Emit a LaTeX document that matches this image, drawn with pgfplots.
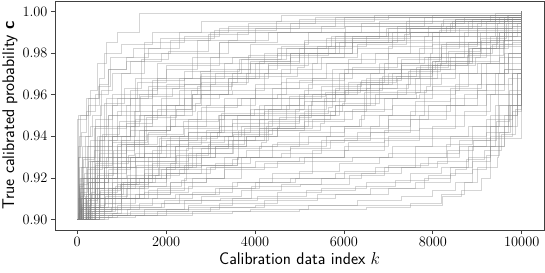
\documentclass[border=0pt]{standalone}
\usepackage{pgfplots}
\pgfplotsset{compat=1.18}
\begin{document}
\begin{tikzpicture}
\begin{axis}[
  scale only axis, width=489bp, height=229bp,
  xmin=-500, xmax=10500, ymin=0.895, ymax=1.005,
  xtick={0,2000,4000,6000,8000,10000},
  ytick={0.90,0.92,0.94,0.96,0.98,1.00},
  yticklabel style={/pgf/number format/.cd, fixed, fixed zerofill, precision=2},
  xticklabel style={/pgf/number format/.cd, 1000 sep={}},
  scaled x ticks=false,
  tick align=outside, xtick pos=bottom, ytick pos=left,
  major tick length=4bp,
  every tick/.style={black!75, line width=0.8pt},
  axis line style={black!75, line width=1pt},
  tick label style={font=\fontsize{14.5}{16}\selectfont},
  label style={font=\fontsize{17}{20}\selectfont},
  xlabel={\textsf{Calibration data index} $k$},
  ylabel={\textsf{True calibrated probability \bfseries c}},
  xlabel style={yshift=1bp},
  ylabel style={yshift=-2bp},
  every axis plot post/.append style={const plot, draw=gray, solid, mark=none, draw opacity=0.33, line width=0.8pt},
]
% fast risers
\addplot coordinates {(0,0.9)(20,0.93)(80,0.95)(300,0.962)(450,0.975)(650,0.985)(900,0.99)(1390,0.999)(10000,1)};
\addplot coordinates {(0,0.9)(40,0.915)(120,0.935)(250,0.958)(500,0.968)(600,0.98)(1000,0.984)(1700,0.99)(2800,0.995)(4600,0.998)(10000,1)};
\addplot coordinates {(0,0.9)(15,0.948)(200,0.952)(400,0.96)(700,0.972)(1100,0.978)(1600,0.982)(2300,0.99)(3400,0.993)(5800,0.997)(10000,1)};
\addplot coordinates {(0,0.9)(150,0.92)(450,0.94)(650,0.958)(1000,0.97)(1500,0.98)(2100,0.986)(3000,0.99)(4800,0.994)(8000,0.998)(10000,1)};
\addplot coordinates {(0,0.9)(80,0.913)(220,0.935)(420,0.948)(800,0.96)(1300,0.968)(2000,0.974)(3200,0.985)(4500,0.99)(6800,0.995)(9400,0.999)(10000,1)};
\addplot coordinates {(0,0.9)(260,0.928)(520,0.955)(900,0.958)(1350,0.966)(2000,0.972)(2700,0.98)(3400,0.986)(4300,0.99)(6400,0.994)(8700,0.997)(10000,1)};
\addplot coordinates {(0,0.9)(100,0.92)(300,0.938)(600,0.944)(1100,0.955)(1700,0.967)(2400,0.971)(3000,0.978)(3900,0.984)(5200,0.99)(7400,0.995)(9300,0.998)(10000,1)};
\addplot coordinates {(0,0.9)(380,0.933)(800,0.945)(1300,0.96)(1800,0.975)(2600,0.978)(3200,0.985)(4000,0.992)(6000,0.997)(10000,1)};
\addplot coordinates {(0,0.9)(60,0.925)(180,0.94)(350,0.95)(550,0.962)(800,0.97)(1200,0.976)(1900,0.98)(2700,0.986)(3600,0.99)(5500,0.993)(7800,0.997)(10000,1)};
\addplot coordinates {(0,0.9)(30,0.95)(250,0.955)(500,0.965)(700,0.972)(1100,0.976)(1500,0.985)(2400,0.988)(3200,0.992)(5000,0.996)(7000,0.998)(10000,1)};
% medium-high
\addplot coordinates {(0,0.9)(100,0.91)(500,0.925)(900,0.935)(1500,0.945)(2200,0.955)(3000,0.965)(3800,0.97)(4800,0.978)(6000,0.985)(7200,0.99)(8500,0.995)(9700,0.998)(10000,1)};
\addplot coordinates {(0,0.9)(200,0.912)(600,0.93)(1000,0.94)(1400,0.943)(2100,0.95)(2600,0.96)(3500,0.962)(4200,0.97)(5300,0.975)(6400,0.98)(7500,0.985)(8700,0.99)(9600,0.996)(10000,1)};
\addplot coordinates {(0,0.9)(50,0.905)(300,0.918)(700,0.922)(1100,0.935)(1900,0.94)(2500,0.948)(3300,0.955)(4000,0.96)(4700,0.968)(5600,0.975)(6700,0.98)(7800,0.988)(8800,0.992)(9800,0.997)(10000,1)};
\addplot coordinates {(0,0.9)(70,0.92)(400,0.935)(1000,0.938)(1500,0.95)(2400,0.958)(3200,0.96)(4000,0.965)(4600,0.972)(5500,0.978)(6300,0.982)(7100,0.986)(8000,0.99)(9200,0.995)(10000,1)};
\addplot coordinates {(0,0.9)(120,0.915)(350,0.928)(800,0.94)(1300,0.948)(1800,0.953)(2600,0.96)(3400,0.968)(4300,0.975)(5400,0.98)(6200,0.988)(7400,0.992)(8900,0.996)(10000,1)};
\addplot coordinates {(0,0.9)(30,0.93)(600,0.94)(1200,0.943)(2100,0.945)(2900,0.955)(3700,0.958)(4500,0.96)(5200,0.965)(6000,0.97)(6900,0.975)(7800,0.978)(8700,0.985)(9500,0.99)(10000,1)};
\addplot coordinates {(0,0.9)(100,0.91)(400,0.922)(900,0.93)(1400,0.94)(2000,0.945)(2700,0.952)(3300,0.958)(4000,0.963)(5000,0.967)(6000,0.972)(7000,0.98)(8000,0.984)(9000,0.988)(9900,0.994)(10000,1)};
\addplot coordinates {(0,0.9)(200,0.925)(700,0.93)(1500,0.935)(2300,0.94)(3200,0.945)(4100,0.955)(5000,0.96)(5800,0.962)(6500,0.968)(7300,0.975)(8300,0.985)(9300,0.988)(10000,1)};
\addplot coordinates {(0,0.9)(150,0.918)(500,0.932)(1100,0.946)(1700,0.955)(2400,0.965)(3100,0.97)(3900,0.975)(4800,0.98)(5800,0.985)(7000,0.99)(8400,0.994)(9600,0.997)(10000,1)};
\addplot coordinates {(0,0.9)(60,0.912)(300,0.928)(700,0.938)(1200,0.95)(1900,0.958)(2800,0.966)(3600,0.972)(4500,0.98)(5400,0.983)(6500,0.988)(7900,0.993)(9100,0.996)(10000,1)};
\addplot coordinates {(0,0.9)(400,0.92)(900,0.936)(1600,0.942)(2000,0.955)(2800,0.96)(3400,0.968)(4100,0.976)(5000,0.982)(6200,0.987)(7500,0.992)(8800,0.995)(10000,1)};
\addplot coordinates {(0,0.9)(250,0.91)(700,0.92)(1300,0.932)(1900,0.938)(2500,0.942)(3200,0.95)(3900,0.958)(4600,0.966)(5300,0.97)(6100,0.977)(7000,0.983)(8000,0.988)(9000,0.992)(9800,0.996)(10000,1)};
% medium
\addplot coordinates {(0,0.9)(250,0.905)(600,0.912)(1000,0.92)(1700,0.928)(2200,0.935)(3000,0.942)(3900,0.948)(4700,0.955)(5300,0.96)(6100,0.966)(6900,0.972)(7900,0.978)(8800,0.985)(9600,0.992)(10000,1)};
\addplot coordinates {(0,0.9)(500,0.91)(1100,0.915)(1600,0.925)(2300,0.93)(3100,0.935)(3800,0.94)(4500,0.945)(5200,0.95)(5900,0.958)(6500,0.963)(7200,0.968)(8100,0.975)(8900,0.982)(9500,0.99)(10000,1)};
\addplot coordinates {(0,0.9)(100,0.908)(450,0.915)(900,0.925)(1600,0.93)(2300,0.938)(2900,0.943)(3600,0.95)(4400,0.958)(5100,0.962)(5900,0.97)(6800,0.975)(7700,0.982)(8600,0.988)(9400,0.993)(10000,1)};
\addplot coordinates {(0,0.9)(300,0.91)(800,0.918)(1200,0.93)(2000,0.936)(2800,0.94)(3500,0.946)(4200,0.952)(5000,0.958)(5800,0.963)(6600,0.97)(7300,0.977)(8200,0.983)(9000,0.99)(9700,0.995)(10000,1)};
\addplot coordinates {(0,0.9)(80,0.915)(600,0.925)(1300,0.93)(2100,0.94)(2700,0.945)(3500,0.948)(4300,0.953)(5100,0.957)(5800,0.96)(6600,0.965)(7500,0.972)(8400,0.978)(9200,0.984)(9800,0.99)(10000,1)};
\addplot coordinates {(0,0.9)(150,0.903)(500,0.908)(1000,0.918)(1500,0.924)(2200,0.932)(3000,0.94)(3700,0.945)(4400,0.95)(5200,0.955)(6000,0.962)(6800,0.968)(7700,0.972)(8500,0.98)(9300,0.986)(10000,1)};
\addplot coordinates {(0,0.9)(50,0.92)(800,0.928)(1700,0.933)(2500,0.937)(3300,0.94)(4100,0.944)(4900,0.948)(5700,0.952)(6500,0.958)(7200,0.962)(8000,0.97)(8800,0.976)(9500,0.984)(10000,1)};
\addplot coordinates {(0,0.9)(400,0.906)(1000,0.912)(1500,0.92)(2100,0.927)(2800,0.934)(3400,0.94)(4100,0.948)(4900,0.953)(5600,0.96)(6300,0.965)(7100,0.97)(8000,0.976)(8800,0.982)(9600,0.99)(10000,1)};
\addplot coordinates {(0,0.9)(200,0.91)(600,0.92)(1100,0.936)(1800,0.94)(2400,0.944)(3200,0.948)(3900,0.953)(4600,0.958)(5500,0.964)(6400,0.967)(7300,0.974)(8200,0.98)(9100,0.986)(9800,0.993)(10000,1)};
\addplot coordinates {(0,0.9)(100,0.906)(700,0.91)(1400,0.916)(2000,0.925)(2600,0.935)(3400,0.938)(4200,0.946)(5000,0.95)(5800,0.955)(6700,0.96)(7600,0.968)(8500,0.975)(9300,0.983)(10000,1)};
% medium-low
\addplot coordinates {(0,0.9)(300,0.905)(1000,0.91)(1800,0.915)(2600,0.92)(3300,0.93)(4100,0.935)(5000,0.94)(5700,0.945)(6400,0.95)(7100,0.955)(7800,0.962)(8600,0.97)(9200,0.975)(9800,0.985)(10000,1)};
\addplot coordinates {(0,0.9)(150,0.912)(800,0.92)(1500,0.928)(2500,0.932)(3500,0.938)(4300,0.943)(5100,0.947)(6000,0.952)(6900,0.958)(7700,0.96)(8500,0.965)(9100,0.975)(9700,0.98)(10000,1)};
\addplot coordinates {(0,0.9)(100,0.902)(600,0.908)(1300,0.912)(2100,0.918)(2900,0.925)(3700,0.93)(4600,0.932)(5500,0.938)(6300,0.942)(7000,0.948)(7900,0.955)(8700,0.96)(9400,0.97)(10000,1)};
\addplot coordinates {(0,0.9)(400,0.915)(1200,0.92)(2000,0.925)(2800,0.93)(3800,0.933)(4800,0.935)(5600,0.94)(6600,0.945)(7500,0.952)(8400,0.958)(9000,0.965)(9600,0.972)(10000,1)};
\addplot coordinates {(0,0.9)(50,0.91)(700,0.915)(1500,0.922)(2400,0.926)(3600,0.93)(7000,0.932)(8600,0.938)(9300,0.95)(9900,0.97)(10000,1)};
\addplot coordinates {(0,0.9)(200,0.903)(900,0.907)(1700,0.91)(2600,0.913)(3500,0.918)(4400,0.922)(5300,0.928)(6200,0.93)(7100,0.935)(8000,0.94)(8800,0.945)(9500,0.955)(10000,1)};
\addplot coordinates {(0,0.9)(600,0.905)(1400,0.908)(2300,0.912)(3200,0.915)(4100,0.92)(5000,0.923)(5900,0.927)(6800,0.93)(7600,0.935)(8400,0.94)(9200,0.948)(9800,0.955)(10000,1)};
\addplot coordinates {(0,0.9)(100,0.91)(400,0.92)(900,0.925)(1800,0.93)(3000,0.935)(4500,0.937)(6000,0.939)(10000,1)};
\addplot coordinates {(0,0.9)(300,0.91)(1200,0.918)(2000,0.922)(3000,0.925)(4000,0.928)(5000,0.93)(6000,0.935)(7000,0.94)(8000,0.945)(8700,0.952)(9300,0.96)(9800,0.97)(10000,1)};
\addplot coordinates {(0,0.9)(250,0.904)(800,0.91)(1600,0.914)(2400,0.92)(3300,0.924)(4200,0.927)(5100,0.93)(6000,0.933)(6900,0.938)(7700,0.944)(8500,0.95)(9200,0.96)(9700,0.968)(10000,1)};
% low
\addplot coordinates {(0,0.9)(500,0.902)(1500,0.905)(2500,0.907)(3500,0.91)(4500,0.913)(5500,0.915)(6500,0.918)(7500,0.922)(8200,0.925)(8800,0.93)(9300,0.94)(9800,0.952)(10000,1)};
\addplot coordinates {(0,0.9)(300,0.902)(1200,0.904)(2500,0.906)(4000,0.907)(8220,0.911)(8650,0.914)(9100,0.92)(9300,0.925)(9450,0.93)(9480,0.97)(9600,0.99)(10000,1)};
\addplot coordinates {(0,0.9)(100,0.901)(800,0.903)(2000,0.905)(3200,0.908)(4500,0.91)(5800,0.912)(7000,0.915)(7800,0.92)(8400,0.925)(8900,0.935)(9300,0.945)(9700,0.96)(10000,1)};
\addplot coordinates {(0,0.9)(400,0.905)(1200,0.91)(2200,0.912)(3100,0.915)(4000,0.918)(4900,0.92)(5800,0.922)(6700,0.925)(7600,0.93)(8300,0.936)(8900,0.945)(9400,0.955)(9800,0.97)(10000,1)};
\addplot coordinates {(0,0.9)(150,0.901)(900,0.902)(2000,0.903)(3500,0.904)(5000,0.905)(6500,0.906)(7500,0.908)(8200,0.912)(8700,0.918)(9000,0.925)(9300,0.935)(9600,0.95)(9900,0.97)(10000,1)};
\addplot coordinates {(0,0.9)(300,0.903)(1000,0.906)(1900,0.908)(2800,0.911)(3700,0.914)(4600,0.917)(5500,0.92)(6400,0.922)(7300,0.925)(8100,0.928)(8800,0.935)(9400,0.945)(9800,0.96)(10000,1)};
\addplot coordinates {(0,0.9)(50,0.906)(600,0.91)(1500,0.913)(2500,0.916)(3600,0.918)(4800,0.92)(6000,0.923)(7000,0.926)(7900,0.93)(8600,0.935)(9200,0.942)(9700,0.955)(10000,1)};
\addplot coordinates {(0,0.9)(700,0.902)(1800,0.904)(3000,0.906)(4200,0.909)(5400,0.912)(6600,0.915)(7600,0.918)(8400,0.922)(8900,0.928)(9300,0.935)(9600,0.945)(9900,0.96)(10000,1)};
% extra
\addplot coordinates {(0,0.9)(50,0.905)(150,0.915)(300,0.925)(500,0.935)(800,0.94)(1200,0.945)(1700,0.955)(2300,0.962)(3000,0.968)(4000,0.975)(5000,0.98)(6200,0.985)(7500,0.99)(9000,0.994)(10000,1)};
\addplot coordinates {(0,0.9)(20,0.91)(100,0.925)(250,0.935)(500,0.94)(900,0.952)(1400,0.96)(2000,0.965)(2800,0.97)(3700,0.977)(4700,0.982)(5800,0.988)(7000,0.992)(8500,0.996)(10000,1)};
\addplot coordinates {(0,0.9)(300,0.915)(600,0.925)(1000,0.93)(1500,0.935)(2000,0.938)(2700,0.94)(3500,0.942)(4300,0.947)(5000,0.95)(5800,0.955)(6600,0.96)(7400,0.965)(8200,0.97)(9000,0.975)(9600,0.98)(10000,1)};
\addplot coordinates {(0,0.9)(150,0.908)(500,0.92)(1000,0.928)(1500,0.932)(2200,0.935)(3000,0.938)(4000,0.94)(5000,0.942)(6000,0.944)(7000,0.95)(7800,0.955)(8500,0.962)(9200,0.97)(9700,0.98)(10000,1)};
\addplot coordinates {(0,0.9)(100,0.905)(400,0.91)(800,0.915)(1300,0.92)(1900,0.924)(2500,0.93)(3100,0.935)(3800,0.94)(4500,0.944)(5300,0.948)(6200,0.953)(7100,0.958)(8000,0.964)(8800,0.97)(9500,0.978)(10000,1)};
\addplot coordinates {(0,0.9)(250,0.92)(500,0.938)(900,0.945)(1400,0.95)(2000,0.96)(2700,0.964)(3500,0.97)(4300,0.974)(5200,0.98)(6300,0.984)(7400,0.988)(8600,0.992)(9600,0.995)(10000,1)};
\addplot coordinates {(0,0.9)(80,0.91)(250,0.918)(700,0.924)(1200,0.93)(1800,0.935)(2500,0.942)(3300,0.95)(4200,0.955)(5100,0.96)(6000,0.965)(7000,0.97)(8000,0.976)(8900,0.982)(9700,0.99)(10000,1)};
\addplot coordinates {(0,0.9)(200,0.906)(500,0.912)(1000,0.917)(1600,0.921)(2300,0.924)(3100,0.927)(3900,0.93)(4800,0.934)(5700,0.938)(6600,0.942)(7500,0.948)(8300,0.955)(9000,0.962)(9600,0.972)(10000,1)};
\addplot coordinates {(0,0.9)(120,0.93)(400,0.945)(800,0.955)(1200,0.962)(1800,0.968)(2600,0.975)(3500,0.978)(4500,0.982)(5600,0.987)(6800,0.99)(8200,0.994)(9500,0.997)(10000,1)};
\addplot coordinates {(0,0.9)(40,0.94)(300,0.945)(700,0.95)(1200,0.958)(1700,0.963)(2300,0.968)(3000,0.972)(3900,0.976)(4800,0.98)(5900,0.985)(7100,0.99)(8300,0.993)(9400,0.996)(10000,1)};
\addplot coordinates {(0,0.9)(60,0.905)(200,0.91)(500,0.913)(900,0.917)(1400,0.92)(2000,0.922)(2800,0.926)(3600,0.93)(4400,0.936)(5200,0.94)(6000,0.945)(6800,0.95)(7600,0.957)(8400,0.963)(9100,0.97)(9700,0.978)(10000,1)};
\addplot coordinates {(0,0.9)(500,0.93)(700,0.95)(1000,0.958)(1600,0.964)(2400,0.968)(3300,0.975)(4200,0.98)(5100,0.985)(6000,0.99)(7200,0.993)(8500,0.996)(10000,1)};
\addplot coordinates {(0,0.9)(30,0.903)(300,0.906)(800,0.91)(1400,0.912)(2100,0.918)(2900,0.92)(3700,0.925)(4500,0.928)(5300,0.933)(6100,0.937)(6900,0.943)(7700,0.95)(8500,0.955)(9200,0.965)(9800,0.975)(10000,1)};
\addplot coordinates {(0,0.9)(150,0.91)(350,0.92)(650,0.93)(1000,0.936)(1500,0.943)(2100,0.948)(2800,0.954)(3600,0.958)(4400,0.963)(5300,0.968)(6200,0.973)(7200,0.978)(8200,0.984)(9200,0.99)(10000,1)};
% irregular additions
\addplot coordinates {(0,0.9)(90,0.907)(330,0.913)(410,0.927)(1150,0.931)(1280,0.952)(2650,0.956)(2780,0.969)(4950,0.973)(5120,0.986)(7350,0.989)(7480,0.997)(10000,1)};
\addplot coordinates {(0,0.9)(180,0.911)(260,0.918)(1750,0.921)(1850,0.939)(3150,0.942)(3250,0.951)(5650,0.954)(5750,0.972)(8050,0.976)(8150,0.991)(10000,1)};
\addplot coordinates {(0,0.9)(350,0.904)(850,0.916)(2350,0.919)(2450,0.934)(4150,0.937)(4250,0.945)(6350,0.948)(6450,0.961)(7850,0.964)(7950,0.98)(9350,0.984)(9450,0.994)(10000,1)};
\addplot coordinates {(0,0.9)(60,0.916)(140,0.929)(380,0.944)(620,0.956)(1050,0.963)(1450,0.977)(2050,0.981)(2950,0.989)(3850,0.994)(5350,0.997)(10000,1)};
\addplot coordinates {(0,0.9)(110,0.906)(520,0.914)(980,0.917)(1320,0.926)(3480,0.929)(3620,0.943)(5480,0.946)(5560,0.958)(7640,0.961)(7720,0.974)(8960,0.978)(9080,0.99)(10000,1)};
\addplot coordinates {(0,0.9)(40,0.904)(760,0.906)(1950,0.909)(4050,0.911)(5150,0.914)(6250,0.916)(7150,0.919)(7900,0.921)(8500,0.924)(8750,0.929)(9150,0.933)(9550,0.941)(9850,0.953)(10000,1)};
\addplot coordinates {(0,0.9)(240,0.909)(450,0.921)(820,0.933)(1280,0.938)(1560,0.949)(2220,0.953)(2560,0.962)(3460,0.966)(3840,0.979)(5640,0.983)(6040,0.993)(8240,0.996)(10000,1)};
\addplot coordinates {(0,0.9)(130,0.902)(1120,0.905)(2420,0.909)(3220,0.91)(3920,0.916)(5020,0.917)(6120,0.921)(6920,0.925)(7720,0.927)(8320,0.933)(8920,0.938)(9420,0.947)(9720,0.962)(10000,1)};
\addplot coordinates {(0,0.9)(25,0.935)(90,0.942)(210,0.958)(480,0.964)(740,0.978)(1260,0.982)(1880,0.987)(3080,0.991)(4480,0.995)(6680,0.998)(10000,1)};
\addplot coordinates {(0,0.9)(280,0.907)(640,0.911)(1130,0.921)(1820,0.925)(2670,0.932)(3520,0.941)(4380,0.944)(5110,0.952)(5960,0.956)(6790,0.963)(7460,0.971)(8180,0.975)(8830,0.982)(9440,0.988)(10000,1)};
\addplot coordinates {(0,0.9)(70,0.911)(160,0.922)(420,0.926)(780,0.937)(1580,0.941)(2380,0.947)(3180,0.95)(3980,0.953)(4780,0.959)(5580,0.961)(6380,0.966)(7180,0.969)(7980,0.974)(8780,0.979)(9580,0.986)(10000,1)};
\addplot coordinates {(0,0.9)(200,0.901)(1300,0.902)(2600,0.904)(3900,0.905)(5200,0.907)(6300,0.909)(7300,0.911)(8000,0.914)(8500,0.918)(8900,0.924)(9200,0.931)(9500,0.942)(9750,0.955)(10000,1)};
\addplot coordinates {(0,0.9)(45,0.917)(230,0.924)(560,0.941)(950,0.947)(1420,0.959)(2130,0.963)(2760,0.971)(3640,0.977)(4590,0.983)(5720,0.988)(6960,0.992)(8430,0.995)(9670,0.998)(10000,1)};
\addplot coordinates {(0,0.9)(320,0.912)(1040,0.918)(1680,0.927)(2220,0.931)(2940,0.936)(3760,0.944)(4540,0.949)(5260,0.957)(6040,0.962)(6860,0.969)(7620,0.973)(8360,0.981)(9060,0.987)(9660,0.994)(10000,1)};
\end{axis}
\pgfresetboundingbox
\path[use as bounding box] ([xshift=-55bp,yshift=-43bp]current axis.south west) rectangle ([xshift=1bp,yshift=1bp]current axis.north east);
\end{tikzpicture}
\end{document}
